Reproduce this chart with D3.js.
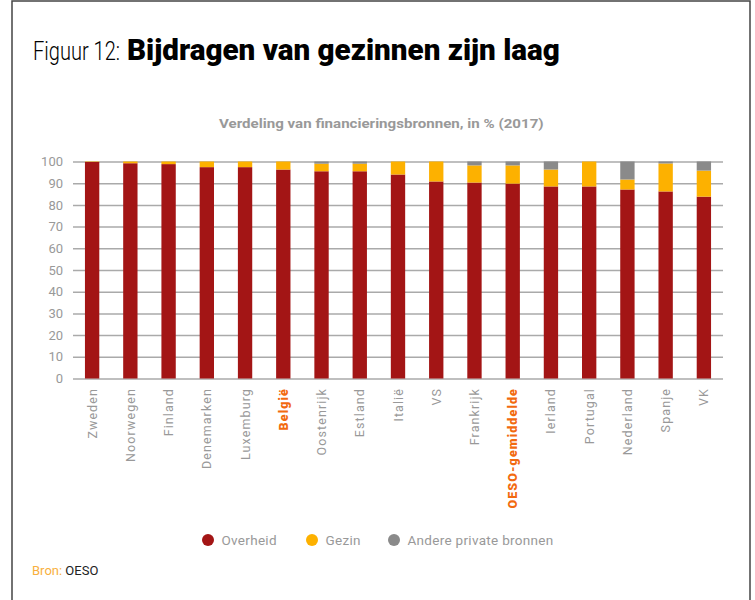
<!DOCTYPE html>
<html>
<head>
  <meta charset="UTF-8">
  <title>Bijdragen van gezinnen zijn laag</title>
  <script src="https://d3js.org/d3.v7.min.js"></script>
  <style>
    body { margin: 0; padding: 0; background: #fff; font-family: Roboto, 'Noto Sans', sans-serif; }
  </style>
</head>
<body>
  <svg id="chart" width="755" height="600"></svg>
  <script>
    const countries = ["Zweden", "Noorwegen", "Finland", "Denemarken", "Luxemburg", "België", "Oostenrijk",
      "Estland", "Italië", "VS", "Frankrijk", "OESO-gemiddelde", "Ierland", "Portugal", "Nederland", "Spanje", "VK"];
    const overheid = [99.8, 99.2, 98.8, 97.4, 97.4, 96.3, 95.5, 95.5, 94.0, 90.8, 90.3, 89.8, 88.5, 88.5, 87.1, 86.2, 83.8];
    const gezin    = [0.2, 0.8, 1.2, 2.6, 2.6, 3.7, 3.5, 3.5, 6.0, 9.2, 7.9, 8.4, 7.8, 11.5, 4.6, 12.9, 12.0];
    const andere   = [0, 0, 0, 0, 0, 0, 1.0, 1.0, 0, 0, 1.8, 1.8, 3.7, 0, 8.3, 0.9, 4.2];
    const highlighted = ["België", "OESO-gemiddelde"];
    const seriesNames = ["Overheid", "Gezin", "Andere private bronnen"];
    const seriesColors = ["#a31515", "#fdb100", "#8a8a8a"];
    const yTicks = [0, 10, 20, 30, 40, 50, 60, 70, 80, 90, 100];

    const rows = countries.map((c, i) => ({ land: c, Overheid: overheid[i], Gezin: gezin[i], "Andere private bronnen": andere[i] }));
    const stacked = d3.stack().keys(seriesNames)(rows);

    const svg = d3.select("#chart");

    // tekst horizontaal schalen tot een gegeven breedte
    function fitText(sel, x, y, target) {
      const w = sel.node().getComputedTextLength();
      sel.attr("transform", `translate(${x},${y}) scale(${target / w},1)`);
    }

    // kader
    svg.append("rect")
      .attr("x", 12).attr("y", 1)
      .attr("width", 738).attr("height", 620)
      .attr("fill", "none").attr("stroke", "#444").attr("stroke-width", 1.5);

    // titel
    const t1 = svg.append("text")
      .attr("font-size", 26).attr("font-weight", 300)
      .attr("fill", "#000")
      .text("Figuur 12:");
    fitText(t1, 33, 60, 87);
    const t2 = svg.append("text")
      .attr("font-size", 29).attr("font-weight", 900)
      .attr("fill", "#000")
      .text("Bijdragen van gezinnen zijn laag");
    fitText(t2, 127, 60, 433);

    const sub = svg.append("text")
      .attr("font-size", 13.5).attr("font-weight", 700)
      .attr("fill", "#999")
      .text("Verdeling van financieringsbronnen, in % (2017)");
    fitText(sub, 219, 128, 325);

    const x = d3.scaleBand().domain(countries).range([73, 723]).paddingInner(0.625).paddingOuter(0.3125);
    const y = d3.scaleLinear().domain([0, 100]).range([378.5, 161.5]);

    // rasterlijnen
    const yAxis = svg.append("g")
      .attr("transform", "translate(73,0)")
      .call(d3.axisLeft(y).tickValues(yTicks).tickSize(-650).tickPadding(10));
    yAxis.select(".domain").remove();
    yAxis.selectAll(".tick line").attr("stroke", "#aaa").attr("stroke-width", 1.5);
    yAxis.selectAll(".tick text").attr("fill", "#999").attr("font-size", 13).attr("font-family", "Roboto");

    // staven
    svg.append("g").selectAll("g")
      .data(stacked)
      .join("g")
      .attr("fill", (d, i) => seriesColors[i])
      .selectAll("rect")
      .data(d => d)
      .join("rect")
      .attr("x", d => x(d.data.land))
      .attr("width", x.bandwidth())
      .attr("y", d => y(d[1]))
      .attr("height", d => y(d[0]) - y(d[1]));

    // x-as labels
    svg.append("g").selectAll("text")
      .data(countries)
      .join("text")
      .attr("transform", d => `translate(${x(d) + x.bandwidth() / 2 + 4.5},388) rotate(-90)`)
      .attr("text-anchor", "end")
      .attr("font-size", 12.5)
      .attr("letter-spacing", 1.1)
      .attr("font-weight", d => highlighted.includes(d) ? 900 : 400)
      .attr("fill", d => highlighted.includes(d) ? "#f26a10" : "#999")
      .text(d => d);

    // legende
    const legendX = [208, 312, 394];
    const legend = svg.append("g").selectAll("g")
      .data(seriesNames)
      .join("g")
      .attr("transform", (d, i) => `translate(${legendX[i]},540)`);
    legend.append("circle").attr("r", 6).attr("fill", (d, i) => seriesColors[i]);
    legend.append("text").attr("x", 13.5).attr("y", 4.5)
      .attr("font-size", 13.5).attr("letter-spacing", 0.3).attr("fill", "#999").text(d => d);

    // bron
    const bron = svg.append("text").attr("x", 32).attr("y", 575).attr("font-size", 13);
    bron.append("tspan").attr("fill", "#f8b040").text("Bron: ");
    bron.append("tspan").attr("fill", "#222").text("OESO");
  </script>
</body>
</html>
